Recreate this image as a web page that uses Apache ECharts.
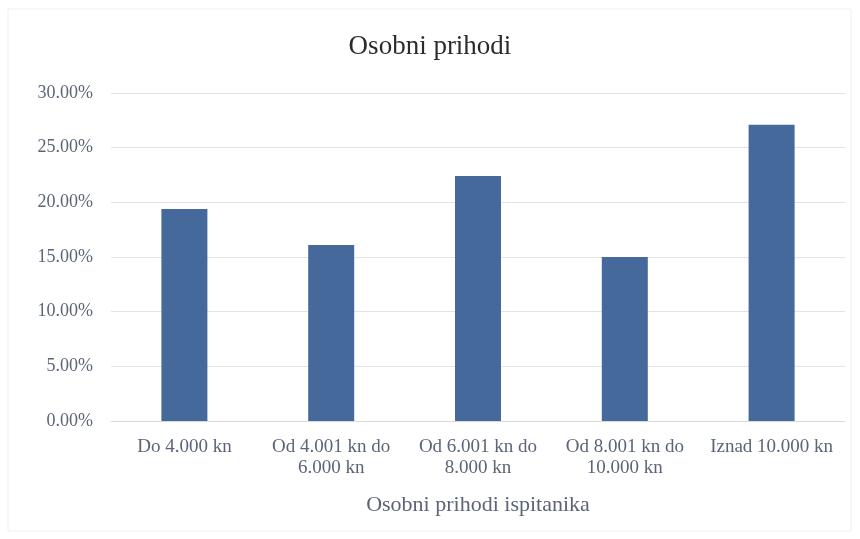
<!DOCTYPE html>
<html>
<head>
<meta charset="utf-8">
<script src="https://cdn.jsdelivr.net/npm/echarts@6/dist/echarts.min.js"></script>
<style>
  html, body { margin: 0; padding: 0; background: #fff; }
  #chart { width: 860px; height: 539px; }
</style>
</head>
<body>
<div id="chart"></div>
<script>
// income brackets and share of respondents (%)
const categories = [
  'Do 4.000 kn',
  'Od 4.001 kn do\n6.000 kn',
  'Od 6.001 kn do\n8.000 kn',
  'Od 8.001 kn do\n10.000 kn',
  'Iznad 10.000 kn'
]
const shares = [19.4, 16.1, 22.4, 15.0, 27.1]
const yTicks = [0, 5, 10, 15, 20, 25, 30]

const chart = echarts.init(document.getElementById('chart'))
const labelColor = '#5b6577'
const serif = '"Liberation Serif", "DejaVu Serif", serif'

chart.setOption({
  animation: false,
  backgroundColor: '#fff',
  textStyle: { fontFamily: serif },
  title: {
    text: 'Osobni prihodi',
    left: 'center',
    top: 28,
    textStyle: { fontFamily: serif, fontSize: 27, fontWeight: 'normal', color: '#2b2b2b' }
  },
  graphic: [{
    type: 'rect',
    shape: { x: 8, y: 9, width: 843, height: 522 },
    style: { fill: 'none', stroke: '#f0f0f0', lineWidth: 1 },
    silent: true
  }],
  grid: { left: 111, right: 15, top: 93, bottom: 118 },
  xAxis: {
    type: 'category',
    data: categories,
    name: 'Osobni prihodi ispitanika',
    nameLocation: 'middle',
    nameGap: 73,
    nameTextStyle: { fontFamily: serif, fontSize: 22, color: labelColor },
    axisTick: { show: false },
    axisLine: { lineStyle: { color: '#d9d9d9' } },
    axisLabel: {
      interval: 0,
      margin: 16,
      fontFamily: serif,
      fontSize: 19,
      lineHeight: 21,
      color: labelColor
    }
  },
  yAxis: {
    type: 'value',
    min: yTicks[0],
    max: yTicks[yTicks.length - 1],
    interval: 5,
    axisLine: { show: false },
    axisTick: { show: false },
    splitLine: { lineStyle: { color: '#e3e3e3' } },
    axisLabel: {
      margin: 18,
      fontFamily: serif,
      fontSize: 18,
      color: labelColor,
      formatter: v => v.toFixed(2) + '%'
    }
  },
  series: [{
    type: 'bar',
    data: shares,
    barWidth: 46,
    itemStyle: { color: '#46699b' }
  }]
})
</script>
</body>
</html>
